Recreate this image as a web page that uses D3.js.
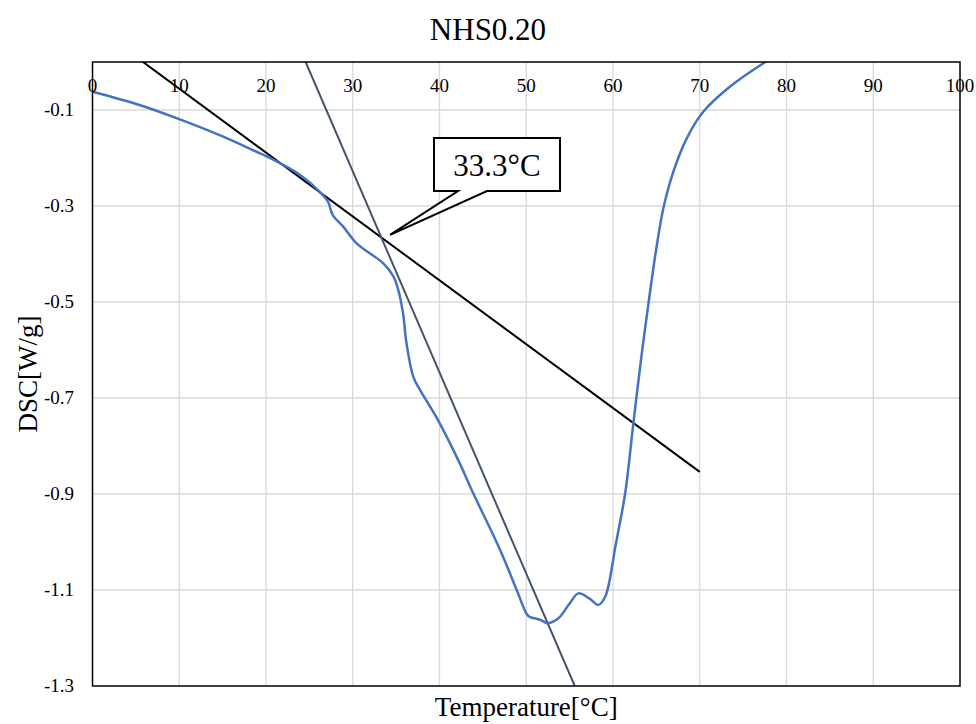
<!DOCTYPE html>
<html>
<head>
<meta charset="utf-8">
<script src="https://cdn.jsdelivr.net/npm/d3@7"></script>
<style>
  html, body { margin: 0; padding: 0; background: #fff; }
  svg { display: block; font-family: "Liberation Serif", "Times New Roman", serif; }
</style>
</head>
<body>
<svg id="chart" width="976" height="724"></svg>
<script>
// ---- data ----
const chartTitle = "NHS0.20";
const xTicks = [0, 10, 20, 30, 40, 50, 60, 70, 80, 90, 100];
const yTicks = [-0.1, -0.3, -0.5, -0.7, -0.9, -1.1, -1.3];
const dscTemp = [0, 5.5, 10, 15, 18.9, 20, 23.9, 26.4, 27.15, 27.7, 28.9, 30.45, 32.0, 33.5, 34.7, 35.25, 35.8, 36.2, 36.98, 37.75, 39.7, 42.2, 43.9, 47.0, 48.9, 50.05, 50.4, 51.6, 52.5, 53.7, 55.0, 56.0, 57.3, 58.3, 59.1, 60.0, 60.2, 61.4, 62.3, 63.3, 64.3, 65.0, 65.8, 66.95, 68.5, 70.4, 73.5, 77.3, 79.0];
const dscValue = [-0.062, -0.090, -0.119, -0.155, -0.187, -0.196, -0.235, -0.274, -0.291, -0.319, -0.343, -0.378, -0.399, -0.419, -0.447, -0.475, -0.524, -0.586, -0.656, -0.683, -0.742, -0.831, -0.899, -1.017, -1.100, -1.150, -1.156, -1.162, -1.169, -1.159, -1.128, -1.107, -1.118, -1.131, -1.114, -1.040, -1.017, -0.899, -0.760, -0.610, -0.475, -0.388, -0.305, -0.229, -0.159, -0.1035, -0.051, -0.003, 0.015];
const tangent1X = [0, 70];
const tangent1Y = [0.0775, -0.854];
const tangent2X = [24.57, 55.59];
const tangent2Y = [0, -1.3];
const onsetLabel = "33.3°C";
const onsetPoint = [34.3, -0.36];
const xTitle = "Temperature[°C]";
const yTitle = "DSC[W/g]";

// ---- layout ----
const svg = d3.select("#chart");
const L = 92.5, R = 960, T = 62, B = 686;
const x = d3.scaleLinear().domain([0, 100]).range([L, R]);
const y = d3.scaleLinear().domain([-1.3, 0]).range([B, T]);

// grid
const g = svg.append("g");
g.selectAll("line.vg").data(xTicks.slice(1, -1)).enter().append("line")
  .attr("x1", d => x(d)).attr("x2", d => x(d)).attr("y1", T).attr("y2", B)
  .attr("stroke", "#d9d9d9").attr("stroke-width", 1.3);
g.selectAll("line.hg").data(yTicks.slice(0, -1)).enter().append("line")
  .attr("x1", L).attr("x2", R).attr("y1", d => y(d)).attr("y2", d => y(d))
  .attr("stroke", "#d9d9d9").attr("stroke-width", 1.3);

// clip
svg.append("clipPath").attr("id", "plotclip").append("rect")
  .attr("x", L).attr("y", T).attr("width", R - L).attr("height", B - T);

const plot = svg.append("g").attr("clip-path", "url(#plotclip)");
const line = d3.line().x(d => x(d[0])).y(d => y(d[1]));

// tangent lines
plot.append("path").datum(tangent1X.map((v, i) => [v, tangent1Y[i]]))
  .attr("d", line).attr("fill", "none").attr("stroke", "#000").attr("stroke-width", 2);
plot.append("path").datum(tangent2X.map((v, i) => [v, tangent2Y[i]]))
  .attr("d", line).attr("fill", "none").attr("stroke", "#44546A").attr("stroke-width", 2);

// DSC curve
const curve = d3.line().x(d => x(d[0])).y(d => y(d[1])).curve(d3.curveCatmullRom.alpha(0.5));
plot.append("path").datum(dscTemp.map((v, i) => [v, dscValue[i]]))
  .attr("d", curve).attr("fill", "none").attr("stroke", "#4472C4").attr("stroke-width", 2.5);

// frame
svg.append("rect").attr("x", L).attr("y", T).attr("width", R - L).attr("height", B - T)
  .attr("fill", "none").attr("stroke", "#000").attr("stroke-width", 1.5);

// x tick labels (at top, below the axis at 0)
svg.append("g").selectAll("text").data(xTicks).enter().append("text")
  .attr("x", d => x(d)).attr("y", 92).attr("text-anchor", "middle")
  .attr("font-size", 19).attr("fill", "#000").text(d => d);

// y tick labels
svg.append("g").selectAll("text").data(yTicks).enter().append("text")
  .attr("x", 74).attr("y", d => y(d) + 6).attr("text-anchor", "end")
  .attr("font-size", 19).attr("fill", "#000").text(d => d3.format(".1f")(d).replace("\u2212", "-"));

// title
svg.append("text").attr("x", 488).attr("y", 40).attr("text-anchor", "middle")
  .attr("font-size", 31).attr("fill", "#000").text(chartTitle);

// axis titles
svg.append("text").attr("x", (L + R) / 2).attr("y", 716).attr("text-anchor", "middle")
  .attr("font-size", 27).attr("fill", "#000").text(xTitle);
svg.append("text").attr("transform", `translate(37,${(T + B) / 2}) rotate(-90)`)
  .attr("text-anchor", "middle").attr("font-size", 27).attr("fill", "#000").text(yTitle);

// callout annotation
const bx0 = 434, by0 = 138, bx1 = 560, by1 = 191;
const tip = [x(onsetPoint[0]), y(onsetPoint[1])];
const calloutPath = `M${bx0},${by0} H${bx1} V${by1} H487 L${tip[0]},${tip[1]} L458,${by1} H${bx0} Z`;
svg.append("path").attr("d", calloutPath).attr("fill", "#fff")
  .attr("stroke", "#000").attr("stroke-width", 2).attr("stroke-linejoin", "miter");
svg.append("text").attr("x", (bx0 + bx1) / 2).attr("y", 176).attr("text-anchor", "middle")
  .attr("font-size", 31).attr("fill", "#000").text(onsetLabel);
</script>
</body>
</html>
